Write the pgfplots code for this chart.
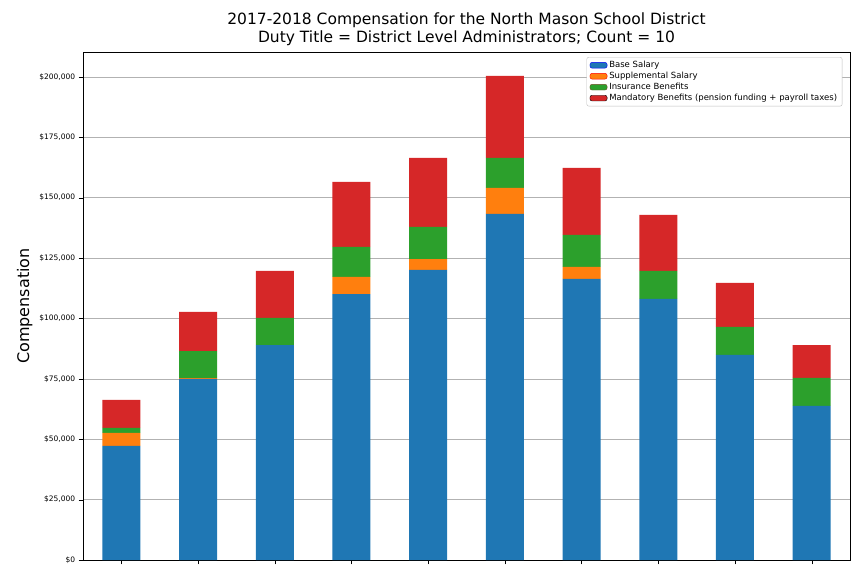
\documentclass[border=0pt]{standalone}
\usepackage{pgfplots}
\pgfplotsset{compat=1.18}
\usepackage{fontspec}
\setmainfont{DejaVu Sans}
\definecolor{c1}{HTML}{1F77B4}
\definecolor{c2}{HTML}{FF7F0E}
\definecolor{c3}{HTML}{2CA02C}
\definecolor{c4}{HTML}{D62728}
\begin{document}
\begin{tikzpicture}
\useasboundingbox (-83pt,-16pt) rectangle (781pt,560pt);
\begin{axis}[
  scale only axis, width=767pt, height=508pt,
  ybar stacked, bar width=38pt,
  xmin=-0.5, xmax=9.5, ymin=0, ymax=210300,
  xtick={0,...,9}, xticklabels={},
  xtick pos=bottom, ytick pos=left,
  ytick={0,25000,...,200000},
  yticklabel={\$\pgfmathprintnumber[fixed,1000 sep={,}]{\tick}},
  scaled y ticks=false,
  /pgf/number format/assume math mode=true,
  yticklabel style={font=\fontsize{7.5}{9}\selectfont},
  ymajorgrids, grid style={gray!60, line width=0.6pt},
  tick align=outside, tick style={black},
  ylabel={Compensation}, ylabel style={font=\fontsize{16}{18}\selectfont},
  title={2017-2018 Compensation for the North Mason School District\\Duty Title = District Level Administrators; Count = 10},
  title style={align=center, font=\fontsize{15.5}{17.5}\selectfont, yshift=-3pt},
  legend style={at={(0.99,0.99)}, anchor=north east, font=\fontsize{8.5}{10}\selectfont, draw=gray!50, rounded corners=2pt, row sep=-1pt},
  legend cell align=left,
]
\addplot+[fill=c1, draw=none, area legend] coordinates {(0,47200)(1,75000)(2,89000)(3,110100)(4,120100)(5,143300)(6,116400)(7,108100)(8,84900)(9,63800)};
\addplot+[fill=c2, draw=none, area legend] coordinates {(0,5400)(1,300)(2,0)(3,7100)(4,4500)(5,10700)(6,4900)(7,0)(8,0)(9,0)};
\addplot+[fill=c3, draw=none, area legend] coordinates {(0,2100)(1,11200)(2,11200)(3,12400)(4,13300)(5,12500)(6,13300)(7,11600)(8,11600)(9,11600)};
\addplot+[fill=c4, draw=none, area legend] coordinates {(0,11600)(1,16200)(2,19500)(3,26900)(4,28600)(5,33900)(6,27700)(7,23200)(8,18200)(9,13600)};
\legend{Base Salary, Supplemental Salary, Insurance Benefits, Mandatory Benefits (pension funding + payroll taxes)}
\end{axis}
\end{tikzpicture}
\end{document}
